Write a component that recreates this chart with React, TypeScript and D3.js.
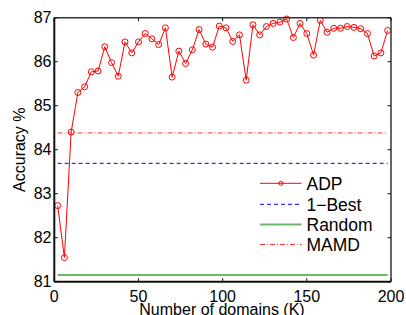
import React from "react";
import * as d3 from "d3";

const domainsK = [2, 6, 10, 14, 18, 22, 26, 30, 34, 38, 42, 46, 50, 54, 58, 62, 66, 70, 74, 78, 82, 86, 90, 94, 98, 102, 106, 110, 114, 118, 122, 126, 130, 134, 138, 142, 146, 150, 154, 158, 162, 166, 170, 174, 178, 182, 186, 190, 194, 198];
const adpAccuracy = [82.73, 81.55, 84.40, 85.30, 85.43, 85.77, 85.79, 86.34, 85.98, 85.67, 86.45, 86.20, 86.45, 86.64, 86.52, 86.39, 86.77, 85.65, 86.24, 85.96, 86.27, 86.73, 86.40, 86.33, 86.81, 86.77, 86.46, 86.61, 85.58, 86.84, 86.61, 86.80, 86.87, 86.90, 86.97, 86.55, 86.87, 86.64, 86.15, 86.94, 86.67, 86.76, 86.76, 86.80, 86.78, 86.75, 86.64, 86.13, 86.20, 86.71];
const oneBest = 83.69;
const randomSel = 81.15;
const mamd = 84.38;
const xTicks = [0, 50, 100, 150, 200];
const yTicks = [81, 82, 83, 84, 85, 86, 87];
const legendLabels = ["ADP", "1\u2212Best", "Random", "MAMD"];

const W = 406, H = 315;
const left = 54.3, right = 391, top = 17.7, bottom = 281.7;
const FONT = "'Liberation Sans', Arial, Helvetica, sans-serif";

export default function App() {
  const x = d3.scaleLinear().domain([0, 200]).range([left, right]);
  const y = d3.scaleLinear().domain([81, 87]).range([bottom, top]);
  const line = d3.line<number>().x((_, i) => x(domainsK[i])).y((d) => y(d));
  const x0 = x(domainsK[0]);
  const x1 = x(domainsK[domainsK.length - 1]);
  const red = "#ff0000";
  const blue = "#0000ff";
  const green = "#6ab86a";

  const legendX0 = 260, legendX1 = 301.5, legendTextX = 306.5;
  const legendYs = [183.3, 204.3, 224.6, 244.5];
  const legendStyles = [
    { stroke: red, dash: "", w: 1 },
    { stroke: blue, dash: "4,3", w: 1 },
    { stroke: green, dash: "", w: 2 },
    { stroke: red, dash: "5,2,1,2", w: 0.8 },
  ];

  return (
    <svg width={W} height={H} style={{ position: "absolute", left: 0, top: 0 }}>
      <rect x={0} y={0} width={W} height={H} fill="#fff" />
      {/* reference lines */}
      <line x1={x0} x2={x1} y1={y(randomSel)} y2={y(randomSel)} stroke={green} strokeWidth={2} />
      <line x1={x0} x2={x1} y1={y(oneBest)} y2={y(oneBest)} stroke={blue} strokeWidth={1} strokeDasharray="4,3" />
      <line x1={x0} x2={x1} y1={y(mamd)} y2={y(mamd)} stroke={red} strokeWidth={0.8} strokeDasharray="5,2,1,2" />
      {/* ADP */}
      <path d={line(adpAccuracy) || ""} fill="none" stroke={red} strokeWidth={1} />
      {adpAccuracy.map((v, i) => (
        <circle key={i} cx={x(domainsK[i])} cy={y(v)} r={3} fill="none" stroke={red} strokeWidth={1} />
      ))}
      {/* axes box */}
      <line x1={left} x2={right} y1={top} y2={top} stroke="#333" strokeWidth={1.5} />
      <line x1={right} x2={right} y1={top} y2={bottom} stroke="#333" strokeWidth={1.5} />
      <line x1={left} x2={right} y1={bottom} y2={bottom} stroke="#111" strokeWidth={2} />
      <line x1={left} x2={left} y1={top} y2={bottom} stroke="#111" strokeWidth={2} />
      {xTicks.map((t) => (
        <g key={"x" + t}>
          <line x1={x(t)} x2={x(t)} y1={bottom} y2={bottom - 3.5} stroke="#111" />
          <line x1={x(t)} x2={x(t)} y1={top} y2={top + 3.5} stroke="#111" />
          <text x={x(t)} y={301.5} textAnchor="middle" fontFamily={FONT} fontSize={16} fill="#000">{t}</text>
        </g>
      ))}
      {yTicks.map((t) => (
        <g key={"y" + t}>
          <line x1={left} x2={left + 3.5} y1={y(t)} y2={y(t)} stroke="#111" />
          <line x1={right} x2={right - 3.5} y1={y(t)} y2={y(t)} stroke="#111" />
          <text x={51.5} y={y(t) + 5.6} textAnchor="end" fontFamily={FONT} fontSize={16} fill="#000">{t}</text>
        </g>
      ))}
      <text x={222} y={314.5} textAnchor="middle" fontFamily={FONT} fontSize={16} fill="#000">Number of domains (K)</text>
      <text transform={`translate(25,${(top + bottom) / 2}) rotate(-90)`} textAnchor="middle" fontFamily={FONT} fontSize={16} fill="#000">Accuracy %</text>
      {/* legend */}
      {legendLabels.map((lab, i) => (
        <g key={lab}>
          <line x1={legendX0} x2={legendX1} y1={legendYs[i]} y2={legendYs[i]} stroke={legendStyles[i].stroke} strokeWidth={legendStyles[i].w} strokeDasharray={legendStyles[i].dash} />
          {i === 0 && <circle cx={(legendX0 + legendX1) / 2} cy={legendYs[i]} r={2} fill="none" stroke={red} strokeWidth={1} />}
          <text x={legendTextX} y={legendYs[i] + 6.2} fontFamily={FONT} fontSize={17.5} fill="#000">{lab}</text>
        </g>
      ))}
    </svg>
  );
}
